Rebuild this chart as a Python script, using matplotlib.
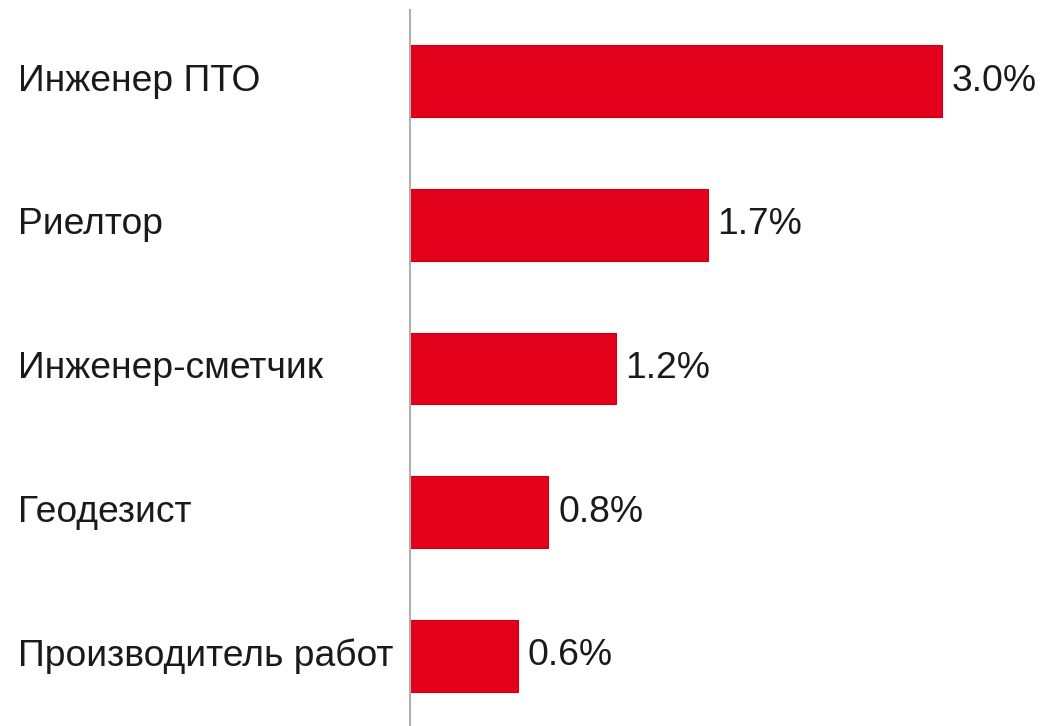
import matplotlib.pyplot as plt
from matplotlib.transforms import blended_transform_factory, offset_copy

plt.rcParams['font.family'] = ['Liberation Sans', 'DejaVu Sans']

categories = ['Инженер ПТО', 'Риелтор', 'Инженер-сметчик', 'Геодезист', 'Производитель работ']
values = [3.0, 1.68, 1.16, 0.78, 0.61]
labels = ['3.0%', '1.7%', '1.2%', '0.8%', '0.6%']

W, H = 1043, 726
fig = plt.figure(figsize=(W / 100, H / 100), dpi=100)
ax = fig.add_axes([410 / W, 0, (W - 410) / W, (H - 10) / H])

pos = list(range(len(categories)))
ax.barh(pos, values, height=0.5, color='#e2001a', edgecolor='#c8001a', linewidth=0.8)

ax.set_xlim(0, (W - 410) / 177.3)
ax.set_ylim(4.487, -0.494)

for s in ['top', 'right', 'bottom']:
    ax.spines[s].set_visible(False)
ax.spines['left'].set_color('#b0b0b0')
ax.spines['left'].set_linewidth(1.5)
ax.set_xticks([])
ax.set_yticks([])

# category names at the left edge of the figure
trans = blended_transform_factory(fig.transFigure, ax.transData)
for p, name in zip(pos, categories):
    ax.text(18 / W, p, name, transform=trans, ha='left', va='center',
            fontsize=26.8, color='#1a1a1a')

# value labels after the bars
off = offset_copy(ax.transData, fig=fig, x=7, y=0, units='points')
for p, v, lab in zip(pos, values, labels):
    ax.text(v, p, lab, transform=off, ha='left', va='center',
            fontsize=26.8, color='#1a1a1a')

fig.savefig('out.png', dpi=100)
